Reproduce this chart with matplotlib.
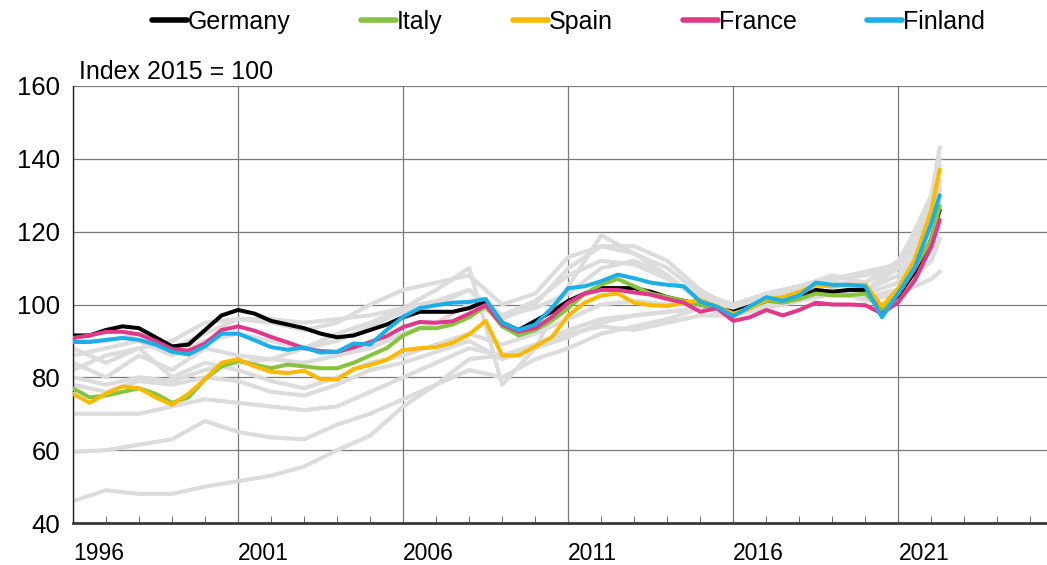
import numpy as np
import matplotlib
matplotlib.use('Agg')
import matplotlib.pyplot as plt

plt.rcParams['font.family'] = ['Liberation Sans', 'DejaVu Sans']

# half-yearly dates for the highlighted countries, last point is 2022 Q2
dates = list(np.arange(1996, 2022.01, 0.5)) + [2022.25]

germany = [91.5, 91.5, 93, 94, 93.5, 91, 88.5, 89, 93, 97,
           98.5, 97.5, 95.5, 94.5, 93.5, 92, 91, 91.5, 93, 94.5,
           96.5, 98, 98, 98, 99, 101, 95, 93, 95.5, 98,
           101, 103, 104.5, 104.5, 104.5, 103.5, 102, 101, 100, 99,
           98, 99.5, 101, 101, 102, 104, 103.5, 104, 104, 98,
           102.5, 109, 118, 126]
italy = [77, 74.5, 75, 76, 77, 75.5, 73, 74.5, 79.5, 83,
         84.5, 83.5, 82.5, 83.5, 83, 82.5, 82.5, 84, 86, 88,
         91.5, 93.5, 93.5, 94.5, 96.5, 99.5, 94, 91.5, 93, 95.5,
         99, 103, 105.5, 107, 105, 103, 102, 101, 100, 99,
         97, 99, 101, 100.5, 101.5, 103, 102.5, 102.5, 103, 98,
         103, 110, 118, 127]
spain = [75.5, 73, 75.5, 77.5, 77, 74.5, 72.5, 75.5, 79.5, 84,
         85, 83, 81.5, 81.2, 81.8, 79.5, 79.4, 82.3, 83.4, 84.8,
         87.5, 88, 88.3, 89.5, 91.8, 95.5, 86, 86, 88.5, 91,
         97, 100.5, 102.5, 103, 100.5, 99.8, 99.6, 100.5, 101.2, 99.5,
         97.5, 99, 101.5, 102, 103.5, 105.3, 105, 105.4, 105.4, 99.5,
         104.5, 112.5, 126, 137]
france = [90.8, 91.5, 92.5, 92.5, 91.8, 90, 87.8, 87.3, 89.3, 93,
          94, 92.8, 91.1, 89.6, 88, 87.2, 87, 88.2, 89.7, 91.3,
          93.8, 95.2, 95, 95.4, 97.5, 99.8, 94.5, 92.5, 93.5, 96.5,
          100.5, 103, 104, 104, 103.3, 102.7, 101.5, 100.5, 98, 99,
          95.5, 96.5, 98.5, 97, 98.5, 100.5, 100, 100, 99.8, 97.5,
          100.7, 106.7, 116, 123.2]
finland = [89.7, 89.7, 90.3, 90.8, 90.3, 89, 87, 86.3, 88.5, 92,
           92, 90.2, 88.3, 87.6, 88.2, 86.8, 87, 89.3, 89, 93,
           96.6, 99, 99.8, 100.5, 100.7, 101.5, 95, 93, 94.5, 99,
           104.5, 105, 106.4, 108.2, 107.2, 106, 105.4, 105, 100.8, 99.4,
           96.8, 99.5, 102, 101, 102.5, 106, 105.4, 105.4, 105, 96.5,
           103.2, 110.3, 122.4, 130]

# other euro area countries, yearly
dates_other = list(range(1996, 2023)) + [2022.25]
others = [
    [46, 49, 48, 48, 50, 51.5, 53, 55.5, 60, 64, 72, 78, 85, 86, 88,
     91, 95, 97, 98, 99, 97, 99, 101, 103, 102, 104, 112, 118],
    [59.5, 60, 61.5, 63, 68, 65, 63.5, 63, 67, 70, 74, 78, 82, 80, 85,
     88, 92, 94, 96, 99, 99, 101, 102, 104, 101, 103, 107, 109],
    [70, 70, 70, 72, 74, 73, 72, 71, 72, 76, 80, 84, 88, 86, 89,
     93, 96, 97, 98, 99, 100, 102, 104, 106, 104, 108, 120, 128],
    [84, 80, 86, 82, 88, 86, 85, 84, 86, 88, 92, 95, 100, 97, 99,
     103, 110, 112, 108, 101, 99, 103, 105, 107, 109, 111, 130, 143],
    [88, 84, 88, 80, 84, 82, 79, 77, 80, 84, 86, 89, 92, 89, 92,
     96, 100, 101, 100, 100, 98, 100, 102, 104, 103, 106, 122, 134],
    [80, 78, 80, 79, 82, 84, 85, 88, 92, 95, 99, 104, 110, 78, 88,
     105, 119, 114, 108, 101, 100, 102, 104, 106, 104, 110, 126, 138],
    [86, 88, 90, 86, 90, 92, 90, 88, 90, 94, 98, 100, 104, 96, 100,
     110, 116, 116, 112, 104, 99, 102, 104, 106, 106, 112, 128, 140],
    [78, 76, 79, 78, 80, 79, 76, 75, 78, 82, 84, 87, 90, 85, 88,
     92, 94, 93, 95, 97, 97, 100, 101, 103, 102, 104, 115, 122],
    [90, 90, 92, 88, 92, 96, 96, 95, 96, 97, 99, 101, 104, 97, 101,
     108, 112, 111, 107, 102, 100, 103, 105, 108, 106, 110, 124, 131],
    [82, 86, 88, 90, 95, 96, 95, 93, 95, 100, 104, 106, 108, 100, 103,
     113, 116, 114, 110, 103, 100, 103, 105, 107, 108, 110, 122, 132],
]

countries = ['Germany', 'Italy', 'Spain', 'France', 'Finland']
series = [germany, italy, spain, france, finland]
colors = ['#000000', '#86c440', '#fbb900', '#e2388a', '#1caee6']
year_labels = [1996, 2001, 2006, 2011, 2016, 2021]

fig = plt.figure(figsize=(10.47, 5.65), dpi=100)
ax = fig.add_axes([0.0697, 0.0743, 0.9303, 0.7735])

for s in others:
    ax.plot(dates_other, s, color='#dcdcdc', lw=3.0, solid_joinstyle='round', zorder=2)

for name, s, c in zip(countries, series, colors):
    ax.plot(dates, s, color=c, lw=2.9, label=name, solid_joinstyle='round',
            solid_capstyle='round', zorder=3)

ax.set_xlim(1996, 2025.5)
ax.set_ylim(40, 160)
ax.set_yticks(range(40, 161, 20))
ax.set_xticks(year_labels)
ax.set_xticks(range(1996, 2026), minor=True)
ax.grid(True, which='major', color='#7a7a7a', lw=0.9, zorder=1)
ax.set_axisbelow(True)

ax.tick_params(axis='both', which='major', length=0)
ax.tick_params(axis='x', which='major', pad=14, labelsize=16.5)
ax.tick_params(axis='y', which='major', pad=9, labelsize=18.5)
ax.tick_params(axis='x', which='minor', direction='in', length=5, color='#555555')
for lbl in ax.get_xticklabels():
    lbl.set_ha('left')

for side in ['top', 'right']:
    ax.spines[side].set_visible(False)
ax.spines['left'].set_color('#222222')
ax.spines['left'].set_linewidth(1.0)
ax.spines['bottom'].set_color('#3a3a3a')
ax.spines['bottom'].set_linewidth(2.0)

ax.text(0.006, 1.004, 'Index 2015 = 100', transform=ax.transAxes,
        fontsize=18, ha='left', va='bottom')

leg = fig.legend(loc='center', bbox_to_anchor=(0.543, 0.961), ncol=5,
                 frameon=False, fontsize=18, handlelength=1.4,
                 handletextpad=0.05, columnspacing=2.8)
for h in leg.get_lines():
    h.set_linewidth(4)

fig.savefig('out.png', dpi=100)
